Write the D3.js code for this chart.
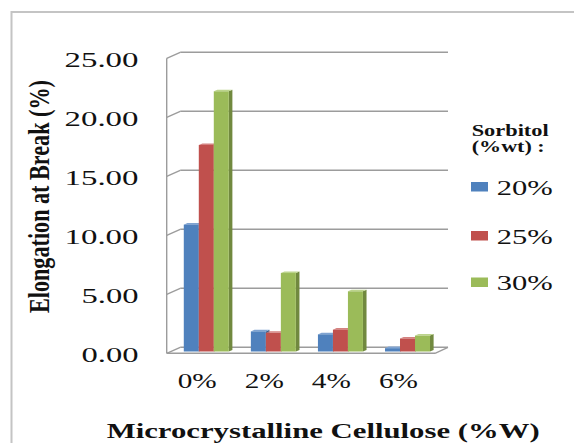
<!DOCTYPE html>
<html>
<head>
<meta charset="utf-8">
<script src="https://cdn.jsdelivr.net/npm/d3@7"></script>
<style>
  html, body { margin: 0; padding: 0; background: #fff; }
  svg { display: block; }
</style>
</head>
<body>
<svg id="chart" width="574" height="443" font-family="Liberation Serif, DejaVu Serif, serif"></svg>
<script>
// ---- data ----
const categories = ["0%", "2%", "4%", "6%"];
const seriesNames = ["20%", "25%", "30%"];
const sorbitol20 = [10.75, 1.70, 1.45, 0.28];
const sorbitol25 = [17.50, 1.58, 1.85, 1.10];
const sorbitol30 = [22.05, 6.65, 5.10, 1.35];
const yTicks = [0, 5, 10, 15, 20, 25];
const yTickLabels = ["0.00", "5.00", "10.00", "15.00", "20.00", "25.00"];
const legendTitle = ["Sorbitol", "(%wt) :"];
const xTitle = "Microcrystalline Cellulose (%W)";
const yTitle = "Elongation at Break (%)";

const seriesValues = [sorbitol20, sorbitol25, sorbitol30];
const colors = {
  front: ["#4F81BD", "#C0504D", "#9BBB59"],
  side:  ["#385D8A", "#8C3836", "#71893F"],
  top:   ["#7FA3D1", "#D48280", "#BCD48C"]
};
const serifFont = "'Liberation Serif', 'DejaVu Serif', serif";

const svg = d3.select("#chart");

// outer frame
svg.append("path")
  .attr("d", "M11.5,443 L11.5,12 L574,12")
  .attr("fill", "none").attr("stroke", "#c4c4c4").attr("stroke-width", 2);

// ---- 3D geometry ----
const x0 = 166.7, xFrontEnd = 435, xBackEnd = 448;
const DX = 13.5, DY = -6;
const y = d3.scaleLinear().domain([0, 25]).range([353.3, 58.3]);
const x = d3.scaleBand().domain(categories).range([x0, xFrontEnd]);
const inner = d3.scaleBand().domain(seriesNames).range([0, 45]);
const f = 0.3;
const sd = 3.6, sdy = -1.6;

const grid = svg.append("g").attr("stroke", "#9c9c9c").attr("stroke-width", 1.4).attr("fill", "none");
yTicks.forEach(t => {
  grid.append("line")
    .attr("x1", x0 + DX).attr("y1", y(t) + DY)
    .attr("x2", xBackEnd).attr("y2", y(t) + DY);
  grid.append("line")
    .attr("x1", x0).attr("y1", y(t))
    .attr("x2", x0 + DX).attr("y2", y(t) + DY);
});
grid.append("line").attr("x1", x0).attr("y1", y(25)).attr("x2", x0).attr("y2", y(0));
grid.append("line").attr("x1", x0).attr("y1", y(0)).attr("x2", xFrontEnd).attr("y2", y(0));
grid.append("line").attr("x1", xFrontEnd).attr("y1", y(0)).attr("x2", xBackEnd).attr("y2", y(0) + DY);

// ---- bars ----
const barsG = svg.append("g");
categories.forEach((c, ci) => {
  const gStart = x(c) + (x.bandwidth() - 45) / 2 + f * DX + 2;
  seriesNames.forEach((s, si) => {
    const v = seriesValues[si][ci];
    const bx = gStart + inner(s);
    const bw = inner.bandwidth();
    const yb = y(0) + f * DY;
    const yt = y(v) + f * DY;
    barsG.append("path")
      .attr("d", `M${bx + bw},${yb} L${bx + bw + sd},${yb + sdy} L${bx + bw + sd},${yt + sdy} L${bx + bw},${yt} Z`)
      .attr("fill", colors.side[si]);
    barsG.append("path")
      .attr("d", `M${bx},${yt} L${bx + sd},${yt + sdy} L${bx + bw + sd},${yt + sdy} L${bx + bw},${yt} Z`)
      .attr("fill", colors.top[si]);
    barsG.append("rect")
      .attr("x", bx).attr("y", yt).attr("width", bw).attr("height", yb - yt)
      .attr("fill", colors.front[si]);
  });
});

const txt = svg.append("g").attr("fill", "#111").style("font-family", serifFont);

// ---- y tick labels ----
txt.append("g").selectAll("text").data(yTicks).join("text")
  .attr("x", 138.5).attr("y", d => y(d) + 8.5)
  .attr("text-anchor", "end")
  .attr("font-size", 22)
  .attr("textLength", (d, i) => yTickLabels[i].length === 5 ? 74 : 57)
  .attr("lengthAdjust", "spacingAndGlyphs")
  .text((d, i) => yTickLabels[i]);

// ---- x tick labels ----
txt.append("g").selectAll("text").data(categories).join("text")
  .attr("x", d => x(d) + x.bandwidth() / 2 - 3).attr("y", 387.5)
  .attr("text-anchor", "middle")
  .attr("font-size", 22)
  .attr("textLength", 39).attr("lengthAdjust", "spacingAndGlyphs")
  .text(d => d);

// ---- axis titles ----
txt.append("text")
  .attr("transform", "translate(48.5,196.5) scale(1.35,1) rotate(-90)")
  .attr("text-anchor", "middle")
  .attr("font-size", 22).attr("font-weight", "bold")
  .attr("textLength", 233).attr("lengthAdjust", "spacingAndGlyphs")
  .text(yTitle);

txt.append("text")
  .attr("x", 106.7).attr("y", 438)
  .attr("font-size", 20).attr("font-weight", "bold")
  .attr("textLength", 433).attr("lengthAdjust", "spacingAndGlyphs")
  .text(xTitle);

// ---- legend ----
txt.append("text").attr("x", 471.7).attr("y", 136)
  .attr("font-size", 16).attr("font-weight", "bold")
  .attr("textLength", 77).attr("lengthAdjust", "spacingAndGlyphs")
  .text(legendTitle[0]);
txt.append("text").attr("x", 471.7).attr("y", 152)
  .attr("font-size", 16).attr("font-weight", "bold")
  .attr("textLength", 73).attr("lengthAdjust", "spacingAndGlyphs")
  .text(legendTitle[1]);

const legendY = [182, 231, 277.5];
seriesNames.forEach((s, i) => {
  svg.append("rect").attr("x", 471).attr("y", legendY[i])
    .attr("width", 17).attr("height", 9.5).attr("fill", colors.front[i]);
  txt.append("text")
    .attr("x", 496.7).attr("y", legendY[i] + 12.5)
    .attr("font-size", 20)
    .attr("textLength", 56).attr("lengthAdjust", "spacingAndGlyphs")
    .text(s);
});
</script>
</body>
</html>
